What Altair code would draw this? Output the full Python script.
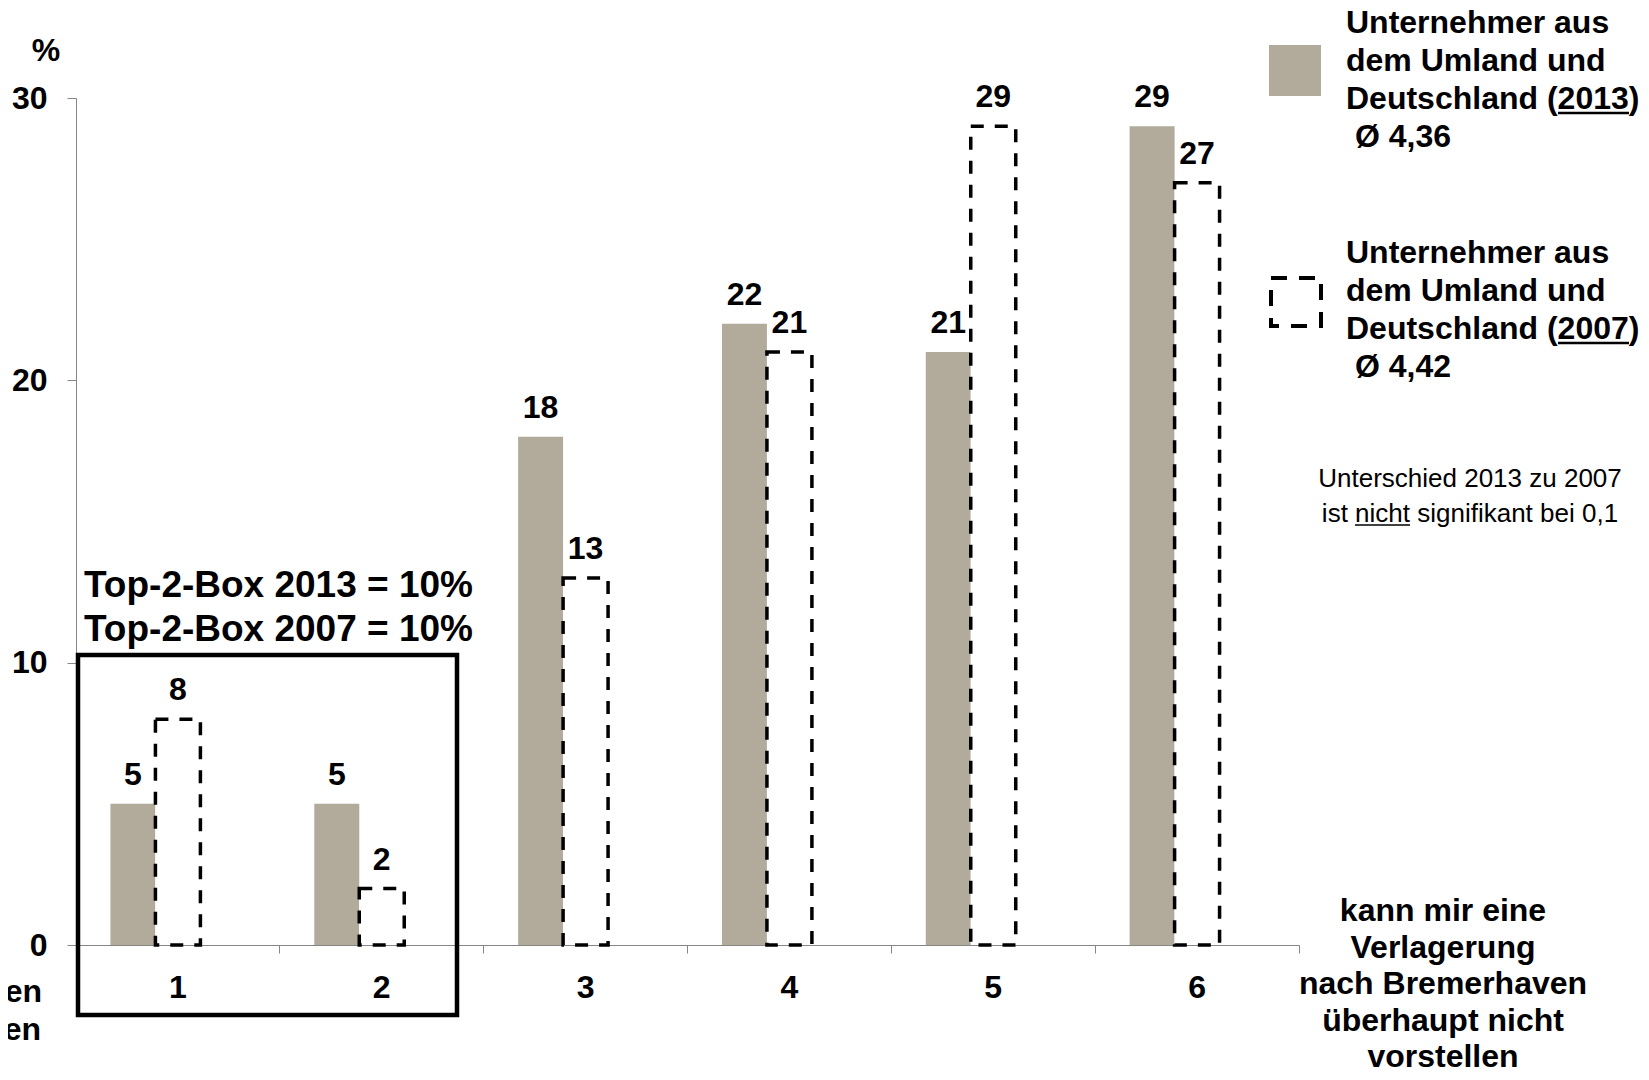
import altair as alt
import pandas as pd

# ---- data ----
categories = ["1", "2", "3", "4", "5", "6"]
values_2013 = [5, 5, 18, 22, 21, 29]
values_2007 = [8, 2, 13, 21, 29, 27]
series_order = ["2013", "2007", "leer"]  # third (empty) slot as in the original layout
y_ticks = [0, 10, 20, 30]

legend_2013 = ["Unternehmer aus", "dem Umland und", "Deutschland (2013)"]
legend_2007 = ["Unternehmer aus", "dem Umland und", "Deutschland (2007)"]
mean_2013 = "Ø 4,36"
mean_2007 = "Ø 4,42"
note_lines = ["Unterschied 2013 zu 2007", "ist nicht signifikant bei 0,1"]
top2_lines = ["Top-2-Box 2013 = 10%", "Top-2-Box 2007 = 10%"]
right_label = ["kann mir eine", "Verlagerung", "nach Bremerhaven", "überhaupt nicht", "vorstellen"]
left_label = ["kann mir eine", "Verlagerung", "nach Bremerhaven", "sehr gut vorstellen"]

df = pd.DataFrame({
    "cat": categories * 2,
    "series": ["2013"] * len(categories) + ["2007"] * len(categories),
    "value": values_2013 + values_2007,
})

FONT = "Liberation Sans"
GRAY = "#B2AB9B"
AXIS_GRAY = "#868686"

x_enc = alt.X(
    "cat:N", sort=categories,
    scale=alt.Scale(paddingInner=0.338, paddingOuter=0.169),
    axis=alt.Axis(title=None, labelAngle=0, labelFont=FONT, labelFontSize=32,
                  labelFontWeight="bold", labelColor="black",
                  bandPosition=1.2553, tickSize=8, labelPadding=19,
                  domainColor=AXIS_GRAY, tickColor=AXIS_GRAY, domainWidth=1, tickWidth=1),
)
xoff_enc = alt.XOffset("series:N", scale=alt.Scale(domain=series_order, paddingInner=0, paddingOuter=0))
y_enc = alt.Y(
    "value:Q", scale=alt.Scale(domain=[0, 30], nice=False),
    axis=alt.Axis(title=None, values=y_ticks, labelFont=FONT, labelFontSize=32,
                  labelFontWeight="bold", labelColor="black", tickSize=9, labelPadding=20,
                  domainColor=AXIS_GRAY, tickColor=AXIS_GRAY, domainWidth=1, tickWidth=1, grid=False),
)

base = alt.Chart(df)

gray_bars = base.transform_filter(alt.datum.series == "2013").mark_bar(color=GRAY).encode(
    x=x_enc, xOffset=xoff_enc, y=y_enc)

dashed_bars = base.transform_filter(alt.datum.series == "2007").mark_bar(
    fill="white", stroke="black", strokeWidth=3.5, strokeDash=[13, 11]).encode(
    x=x_enc, xOffset=xoff_enc, y=y_enc)

labels = base.mark_text(font=FONT, fontSize=32, fontWeight="bold", color="black",
                        baseline="alphabetic", dy=-19).encode(
    x=x_enc, xOffset=xoff_enc, y=y_enc, text="value:Q")

one = pd.DataFrame({"k": [0]})


def txt(lines, x, y, size=32, weight="bold", align="left", lh=38):
    return alt.Chart(one).mark_text(
        text=lines, font=FONT, fontSize=size, fontWeight=weight, color="black",
        align=align, baseline="alphabetic", lineHeight=lh,
    ).encode(x=alt.value(x), y=alt.value(y))


def rule(x1, x2, y, w=2.5):
    return alt.Chart(one).mark_rule(color="black", strokeWidth=w).encode(
        x=alt.value(x1), x2=alt.value(x2), y=alt.value(y))


pct = txt("%", -30, -37, align="center")
top2 = txt(top2_lines, 8, 499, size=37, lh=44)
box = alt.Chart(one).mark_rect(fill=None, stroke="black", strokeWidth=4.5).encode(
    x=alt.value(2), x2=alt.value(381), y=alt.value(557), y2=alt.value(917))

LX = 1270  # legend text left edge (plot coordinates)
leg_sq1 = alt.Chart(one).mark_rect(color=GRAY).encode(
    x=alt.value(1193), x2=alt.value(1245), y=alt.value(-53), y2=alt.value(-2))
leg_sq2 = alt.Chart(one).mark_rect(fill="white", stroke="black", strokeWidth=4,
                                   strokeDash=[16, 12]).encode(
    x=alt.value(1195), x2=alt.value(1245), y=alt.value(180), y2=alt.value(228))
leg_t1 = txt(legend_2013, LX, -65)
leg_m1 = txt(mean_2013, LX + 9, 49)
leg_t2 = txt(legend_2007, LX, 165)
leg_m2 = txt(mean_2007, LX + 9, 279)
ul1 = rule(LX + 212, LX + 283, 15)
ul2 = rule(LX + 212, LX + 283, 245)

note = txt(note_lines, 1394, 389, size=26, weight="normal", align="center", lh=35)
ul3 = rule(1279, 1334, 427, w=1.5)

right_t = txt(right_label, 1367, 823, align="center", lh=36.5)
left_t = txt(left_label, -178, 828, align="center")

chart = alt.layer(
    gray_bars, dashed_bars, labels, pct, top2, box,
    leg_sq1, leg_sq2, leg_t1, leg_m1, leg_t2, leg_m2, ul1, ul2, note, ul3, right_t, left_t,
).properties(
    width=1223, height=847,
    autosize=alt.AutoSizeParams(type="none"),
    padding={"left": 68, "top": 90, "right": 342, "bottom": 123},
).configure_view(stroke=None)

chart.save("out.html", embed_options={"renderer": "svg", "actions": False})
